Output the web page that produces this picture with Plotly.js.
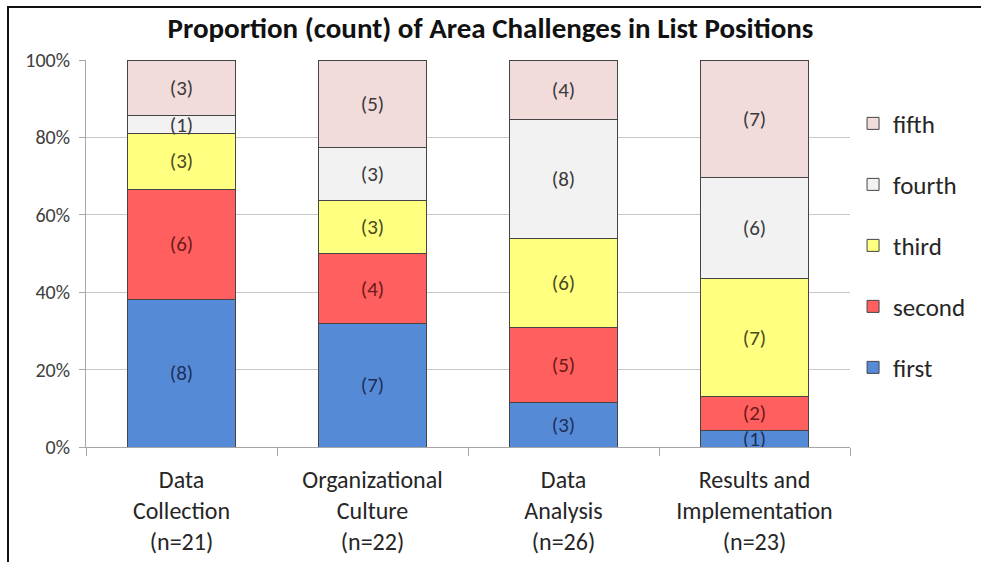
<!DOCTYPE html>
<html>
<head>
<meta charset="utf-8">
<script src="https://cdn.plot.ly/plotly-3.0.1.min.js"></script>
<style>
  html, body { margin: 0; padding: 0; background: #fff; }
  #wrap { position: relative; width: 981px; height: 562px; }
  #chart { width: 981px; height: 562px; }
  #frame { position: absolute; left: 7px; top: 6px; right: 0; bottom: 0;
           border-left: 2px solid #111; border-top: 2px solid #111; pointer-events: none; }
</style>
</head>
<body>
<div id="wrap"><div id="chart"></div><div id="frame"></div></div>
<script>
const categories = ["Data<br>Collection<br>(n=21)", "Organizational<br>Culture<br>(n=22)", "Data<br>Analysis<br>(n=26)", "Results and<br>Implementation<br>(n=23)"];
const seriesNames = ["first", "second", "third", "fourth", "fifth"];
const first  = [8, 7, 3, 1];
const second = [6, 4, 5, 2];
const third  = [3, 3, 6, 7];
const fourth = [1, 3, 8, 6];
const fifth  = [3, 5, 4, 7];

const values = [first, second, third, fourth, fifth];
const fills = ["#558BD6", "#FF5F5F", "#FFFF80", "#F2F2F2", "#F2DCDB"];
const textColors = ["#1F2F5A", "#6B1A1A", "#4A4A20", "#3A3A3A", "#3A3A3A"];
const fontFam = "Carlito, Calibri, 'Liberation Sans Narrow', 'Open Sans', sans-serif";

const traces = values.map((v, i) => ({
  type: "bar",
  name: seriesNames[i],
  legendgroup: seriesNames[i],
  legendrank: 100 - i,
  x: categories,
  y: v,
  text: v.map(n => "(" + n + ")"),
  textposition: "inside",
  insidetextanchor: "middle",
  constraintext: "none",
  textangle: 0,
  textfont: { family: fontFam, size: 21, color: textColors[i] },
  marker: { color: fills[i], line: { color: "#454545", width: 1 } },
  hoverinfo: "none"
}));

const layout = {
  width: 981, height: 562,
  margin: { l: 86, r: 131, t: 60, b: 115, pad: 0, autoexpand: false },
  paper_bgcolor: "#ffffff",
  plot_bgcolor: "#ffffff",
  barmode: "stack",
  barnorm: "percent",
  bargap: 0.435,
  showlegend: true,
  title: {
    text: "<b>Proportion (count) of Area Challenges in List Positions</b>",
    font: { family: fontFam, size: 29, color: "#111111" },
    x: 0.5, xref: "container", xanchor: "center",
    y: 0.95, yref: "container", yanchor: "middle"
  },
  xaxis: {
    type: "category",
    showline: true, linecolor: "#A6A6A6", linewidth: 1,
    ticks: "outside", tickson: "boundaries", ticklen: 8, tickcolor: "#A6A6A6",
    ticklabelstandoff: 11,
    tickfont: { family: fontFam, size: 24, color: "#262626" },
    showgrid: false, zeroline: false, fixedrange: true
  },
  yaxis: {
    range: [0, 100],
    dtick: 20,
    ticksuffix: "%",
    showline: true, linecolor: "#A6A6A6", linewidth: 1,
    ticks: "outside", ticklen: 6, tickcolor: "#A6A6A6",
    ticklabelstandoff: 5,
    showgrid: true, gridcolor: "#C8C8C8", gridwidth: 1,
    zeroline: false,
    tickfont: { family: fontFam, size: 20, color: "#404040" },
    fixedrange: true
  },
  legend: {
    x: 1.004, xanchor: "left",
    y: 0.895, yanchor: "top",
    traceorder: "grouped",
    tracegroupgap: 25.5,
    font: { family: fontFam, size: 25, color: "#262626" },
    itemwidth: 30,
    bgcolor: "rgba(0,0,0,0)"
  },
  hovermode: false
};

Plotly.newPlot("chart", traces, layout, { displayModeBar: false, staticPlot: true });
</script>
</body>
</html>
